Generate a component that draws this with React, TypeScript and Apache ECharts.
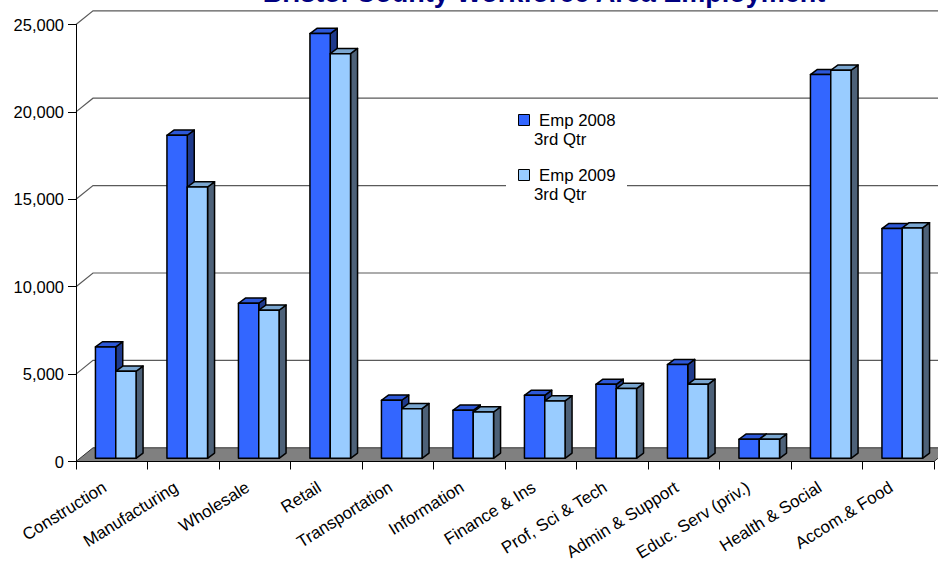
import React, { useEffect, useRef } from "react";
import * as echarts from "echarts";

const categories = [
  "Construction",
  "Manufacturing",
  "Wholesale",
  "Retail",
  "Transportation",
  "Information",
  "Finance & Ins",
  "Prof, Sci & Tech",
  "Admin & Support",
  "Educ. Serv (priv.)",
  "Health & Social",
  "Accom.& Food",
];
const emp2008 = [6370, 18480, 8870, 24300, 3320, 2750, 3600, 4230, 5360, 1090, 21950, 13140];
const emp2009 = [4980, 15520, 8470, 23150, 2840, 2650, 3280, 3990, 4230, 1090, 22200, 13180];
const yTicks = [0, 5000, 10000, 15000, 20000, 25000];
const seriesNames = ["Emp 2008", "Emp 2009"];
const legendSub = "3rd Qtr";
const titleText = "Bristol County Workforce Area Employment";

const FONT = "'Liberation Sans', Arial, sans-serif";
const DEPTH_X = 17;
const DEPTH_Y = -13.7;

const palette = [
  { front: "#3366FF", top: "#2D58D8", side: "#1F3A8C" },
  { front: "#99CCFF", top: "#7AA6D0", side: "#4D6178" },
];

function barRender(side: number) {
  const c = palette[side];
  return (params: any, api: any) => {
    const cat = api.value(0);
    const val = api.value(1);
    const top = api.coord([cat, val]);
    const base = api.coord([cat, 0]);
    const catW = api.size([1, 0])[0];
    const bw = catW * 0.284;
    const fx = 4;
    const fy = -3.2;
    const ddx = 7;
    const ddy = -5.2;
    const x0 = top[0] + fx + (side === 0 ? -bw : 0);
    const x1 = x0 + bw;
    const yT = top[1] + fy;
    const yB = base[1] + fy;
    const stroke = { stroke: "#000", lineWidth: 1.5, lineJoin: "round" };
    return {
      type: "group",
      children: [
        {
          type: "polygon",
          shape: { points: [[x1, yT], [x1 + ddx, yT + ddy], [x1 + ddx, yB + ddy], [x1, yB]] },
          style: { fill: c.side, ...stroke },
        },
        {
          type: "polygon",
          shape: { points: [[x0, yT], [x0 + ddx, yT + ddy], [x1 + ddx, yT + ddy], [x1, yT]] },
          style: { fill: c.top, ...stroke },
        },
        {
          type: "rect",
          shape: { x: x0, y: yT, width: bw, height: yB - yT },
          style: { fill: c.front, ...stroke },
        },
      ],
    };
  };
}

function wallRender(params: any, api: any) {
  const cs = params.coordSys;
  const x0 = cs.x;
  const x1 = cs.x + cs.width;
  const y0 = api.coord([0, 0])[1];
  const children: any[] = [];
  yTicks.forEach((v) => {
    if (v === 0) return;
    const y = api.coord([0, v])[1];
    children.push({
      type: "polyline",
      shape: { points: [[x0, y], [x0 + DEPTH_X, y + DEPTH_Y], [x1 + DEPTH_X + 20, y + DEPTH_Y]] },
      style: { stroke: "#5a5a5a", lineWidth: 1.2, fill: null },
    });
  });
  children.push({
    type: "polygon",
    shape: {
      points: [
        [x0, y0],
        [x0 + DEPTH_X, y0 + DEPTH_Y],
        [x1 + DEPTH_X, y0 + DEPTH_Y],
        [x1, y0],
      ],
    },
    style: { fill: "#808080", stroke: "#333", lineWidth: 1 },
  });
  return { type: "group", children };
}

export default function App() {
  const ref = useRef<HTMLDivElement>(null);
  useEffect(() => {
    if (!ref.current) return;
    const chart = echarts.init(ref.current, null, { renderer: "svg" });
    const legendX = 518.5;
    const legendY = [114.5, 169.5];
    const graphic: any[] = [
      {
        type: "text",
        z: 100,
        style: {
          text: titleText,
          x: 544,
          y: -7,
          textAlign: "center",
          textVerticalAlign: "middle",
          font: `bold 27px ${FONT}`,
          fill: "#000080",
        },
      },
      {
        type: "rect",
        z: 100,
        shape: { x: 506, y: 105, width: 121, height: 96 },
        style: { fill: "#fff" },
      },
    ];
    seriesNames.forEach((name, i) => {
      graphic.push({
        type: "rect",
        z: 101,
        shape: { x: legendX, y: legendY[i], width: 11, height: 11 },
        style: { fill: palette[i].front, stroke: "#000", lineWidth: 1 },
      });
      graphic.push({
        type: "text",
        z: 101,
        style: {
          text: name,
          x: 539,
          y: legendY[i] + 6,
          textVerticalAlign: "middle",
          font: `16.8px ${FONT}`,
          fill: "#000",
        },
      });
      graphic.push({
        type: "text",
        z: 101,
        style: {
          text: legendSub,
          x: 534,
          y: legendY[i] + 24.5,
          textVerticalAlign: "middle",
          font: `16.8px ${FONT}`,
          fill: "#000",
        },
      });
    });

    chart.setOption({
      animation: false,
      grid: {
        left: 76,
        right: 4,
        top: 24.5,
        bottom: 101.5,
        containLabel: false,
        outerBoundsMode: "none",
      },
      xAxis: {
        type: "category",
        data: categories,
        z: 10,
        axisLine: { show: true, lineStyle: { color: "#000", width: 1 } },
        axisTick: { show: true, interval: 0, length: 8, lineStyle: { color: "#000" } },
        axisLabel: {
          interval: 0,
          rotate: 32,
          margin: 20,
          padding: [0, 8, 0, 0],
          fontSize: 17,
          fontFamily: FONT,
          color: "#000",
        },
        splitLine: { show: false },
      },
      yAxis: {
        type: "value",
        min: 0,
        max: 25000,
        interval: 5000,
        z: 10,
        axisLine: { show: true, lineStyle: { color: "#000", width: 1 } },
        axisTick: { show: true, length: 8, lineStyle: { color: "#000" } },
        axisLabel: {
          margin: 12,
          fontSize: 16.5,
          fontFamily: FONT,
          color: "#000",
          formatter: (v: number) => v.toLocaleString("en-US"),
        },
        splitLine: { show: false },
      },
      series: [
        {
          type: "custom",
          name: "walls",
          silent: true,
          clip: false,
          z: 1,
          renderItem: wallRender,
          data: [[0, 0]],
        },
        ...[emp2008, emp2009].map((arr, s) => ({
          type: "custom",
          name: seriesNames[s],
          clip: false,
          z: 3,
          renderItem: barRender(s),
          data: arr.map((v, i) => [i, v]),
        })),
      ],
      graphic,
    });
    return () => chart.dispose();
  }, []);
  return (
    <div
      ref={ref}
      style={{ position: "fixed", left: 0, top: 0, width: 938, height: 563, background: "#fff" }}
    />
  );
}
